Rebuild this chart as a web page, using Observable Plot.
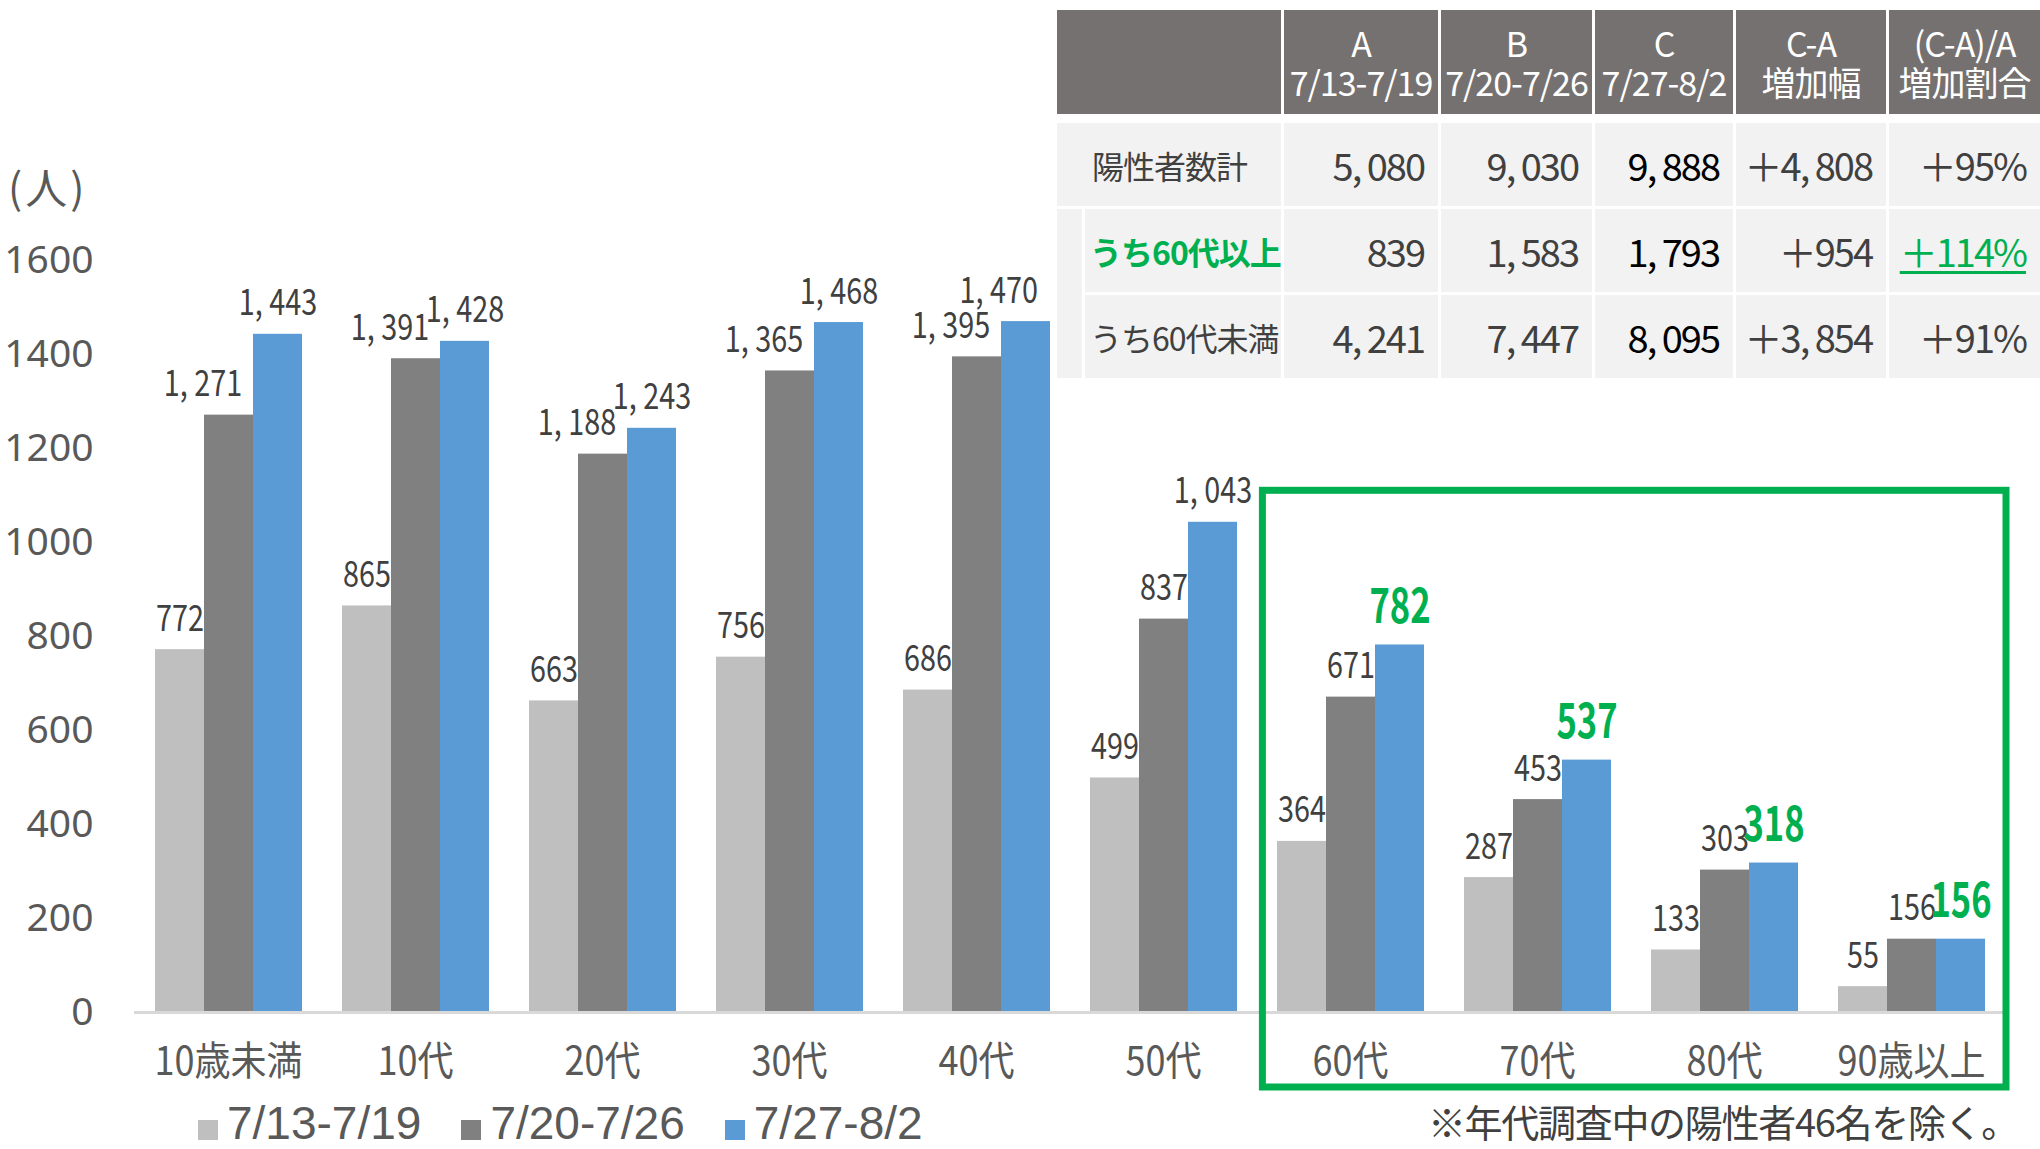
<!DOCTYPE html>
<html>
<head>
<meta charset="utf-8">
<script src="https://cdn.jsdelivr.net/npm/d3@7"></script>
<script src="https://cdn.jsdelivr.net/npm/@observablehq/plot@0.6"></script>
<style>
  html, body { margin: 0; padding: 0; background: #ffffff; }
  #wrap { position: relative; width: 2040px; height: 1149px; overflow: hidden; background: #ffffff;
          font-family: "Noto Sans CJK JP", sans-serif; }
  #wrap svg { display: block; }
  #unit { position: absolute; left: 8px; top: 164px; font: 42px/44px "Noto Sans CJK JP", sans-serif; letter-spacing: 3px; color: #595959; }
  #note { position: absolute; right: 22px; top: 1100px; font: 38px/42px "Noto Sans CJK JP", sans-serif; letter-spacing: -1.3px; color: #404040; white-space: nowrap; }
  #legend { position: absolute; left: 198px; top: 1100px; height: 46px; display: flex; align-items: flex-start; gap: 40px; }
  #legend .item { display: flex; align-items: flex-start; }
  #legend .sw { width: 20px; height: 20px; margin-right: 9px; margin-top: 20px; }
  #legend .lb { font: 46px/46px "Liberation Sans", "Noto Sans CJK JP", sans-serif; color: #595959; }
  table.summary { position: absolute; left: 1054px; top: 7px; width: 986px; border-collapse: collapse; table-layout: fixed; }
  table.summary th, table.summary td { border: 3px solid #ffffff; padding: 0; white-space: nowrap; overflow: hidden; }
  table.summary th { background: #767171; color: #ffffff; height: 104px; font: 34px/39px "Noto Sans CJK JP", sans-serif; font-weight: normal; letter-spacing: -1px; text-align: center; border-bottom: 9px solid #ffffff; }
  table.summary td { background: #f2f2f2; height: 83px; color: #404040; }
  table.summary td.lab { font: 32px/36px "Noto Sans CJK JP", sans-serif; letter-spacing: -1px; text-align: left; }
  table.summary td.num { font: 38px/40px "Noto Sans CJK JP", sans-serif; text-align: right; padding-right: 14px; letter-spacing: -2px; }
  table.summary td.colC { color: #000000; }
  table.summary td.green { color: #00b050; }
  table.summary td.lab.green { font-weight: bold; }
  table.summary td.under span { text-decoration: underline; text-decoration-color: #00b050; text-underline-offset: 4px; }
</style>
</head>
<body>
<div id="wrap"></div>
<script>
// ---------------- data ----------------
const ages = ["10歳未満", "10代", "20代", "30代", "40代", "50代", "60代", "70代", "80代", "90歳以上"];
const periods = ["7/13-7/19", "7/20-7/26", "7/27-8/2"];
const week1 = [772, 865, 663, 756, 686, 499, 364, 287, 133, 55];
const week2 = [1271, 1391, 1188, 1365, 1395, 837, 671, 453, 303, 156];
const week3 = [1443, 1428, 1243, 1468, 1470, 1043, 782, 537, 318, 156];
const seriesColors = ["#bfbfbf", "#808080", "#5b9bd5"];
const yTicks = [0, 200, 400, 600, 800, 1000, 1200, 1400, 1600];
const highlightAges = ["60代", "70代", "80代", "90歳以上"];
const unitLabel = "(人)";
const footnote = "※年代調査中の陽性者46名を除く。";

// summary table
const tableHeadTop = ["A", "B", "C", "C-A", "(C-A)/A"];
const tableHeadBottom = ["7/13-7/19", "7/20-7/26", "7/27-8/2", "増加幅", "増加割合"];
const tableRowLabels = ["陽性者数計", "うち60代以上", "うち60代未満"];
const tableA = [5080, 839, 4241];
const tableB = [9030, 1583, 7447];
const tableC = [9888, 1793, 8095];
const tableDiff = [4808, 954, 3854];
const tableRatio = [95, 114, 91];

// ---------------- chart ----------------
const FONT = "'Noto Sans CJK JP', sans-serif";
const series = [week1, week2, week3];
const data = ages.flatMap((age, i) => periods.map((p, j) => ({age, period: p, value: series[j][i], s: j})));
const fmt = v => d3.format(",")(v).replace(",", ", ");
const isGreen = d => d.s === 2 && highlightAges.includes(d.age);
const isShifted = d => d.s === 1 && d.value >= 1000;   // the original nudges these labels left

const labelStyle = {fx: "age", x: "period", y: "value", text: d => fmt(d.value), lineAnchor: "bottom", fontSize: 36, fill: "#404040"};

const chart = Plot.plot({
  width: 2040,
  height: 1100,
  marginLeft: 132,
  marginRight: 34,
  marginTop: 260,
  marginBottom: 88,
  style: {fontFamily: FONT, background: "transparent", overflow: "visible"},
  fx: {domain: ages, paddingInner: 0.21, paddingOuter: 0.105, label: null},
  x: {domain: periods, padding: 0, axis: null},
  y: {domain: [0, 1600]},
  color: {domain: periods, range: seriesColors},
  marks: [
    Plot.barY(data, {fx: "age", x: "period", y: "value", fill: "period"}),
    Plot.ruleY([0], {stroke: "#d9d9d9", strokeWidth: 3, insetLeft: -20, insetRight: -20}),
    Plot.text(data.filter(d => !isGreen(d) && !isShifted(d)), {...labelStyle, dy: -19}),
    Plot.text(data.filter(isShifted), {...labelStyle, dy: -19, dx: -26}),
    Plot.text(data.filter(isGreen), {
      fx: "age", x: "period", y: "value", text: d => fmt(d.value),
      lineAnchor: "bottom", dy: -22, fontSize: 48, fontWeight: "bold", fill: "#00b050"
    }),
    Plot.axisY({ticks: yTicks, tickFormat: d => String(d), tickSize: 0, tickPadding: 61, fontSize: 39, fontFamily: "'Noto Sans', sans-serif", fill: "#595959", label: null}),
    Plot.axisFx({anchor: "bottom", tickSize: 0, tickPadding: 34, fontSize: 40, fill: "#595959", label: null})
  ]
});

const wrap = document.getElementById("wrap");
wrap.appendChild(chart);

// condensed lettering like the original's narrow font
function condense(nodes, factor) {
  nodes.forEach(t => {
    const L = t.getComputedTextLength();
    t.setAttribute("textLength", (L * factor).toFixed(2));
    t.setAttribute("lengthAdjust", "spacingAndGlyphs");
  });
}
const textGroups = chart.querySelectorAll('g[aria-label="text"]');
if (textGroups[0]) condense(textGroups[0].querySelectorAll("text"), 0.8);
if (textGroups[1]) condense(textGroups[1].querySelectorAll("text"), 0.8);
if (textGroups[2]) condense(textGroups[2].querySelectorAll("text"), 0.72);
condense(chart.querySelectorAll('g[aria-label="fx-axis tick label"] text'), 0.9);

// green highlight frame around the 60+ groups, derived from the chart scales
(function () {
  const fxDesc = chart.scale("fx");
  const yDesc = chart.scale("y");
  const fxS = d3.scaleBand().domain(fxDesc.domain).range(fxDesc.range)
    .paddingInner(fxDesc.paddingInner).paddingOuter(fxDesc.paddingOuter).align(fxDesc.align ?? 0.5);
  const yS = d3.scaleLinear().domain(yDesc.domain).range(yDesc.range);
  const first = highlightAges[0], last = highlightAges[highlightAges.length - 1];
  const half = fxS.step() * fxS.paddingInner() / 2;
  const x1 = fxS(first) - half + 6;
  const x2 = fxS(last) + fxS.bandwidth() + half;
  const y1 = yS(1110);
  const y2 = yS(0) + 75;
  d3.select(chart).append("rect")
    .attr("x", x1).attr("y", y1).attr("width", x2 - x1).attr("height", y2 - y1)
    .attr("fill", "none").attr("stroke", "#00b050").attr("stroke-width", 7);
})();

// unit label
const unit = document.createElement("div");
unit.id = "unit"; unit.textContent = unitLabel; wrap.appendChild(unit);

// footnote
const note = document.createElement("div");
note.id = "note"; note.textContent = footnote; wrap.appendChild(note);

// legend
const legend = document.createElement("div");
legend.id = "legend";
periods.forEach((p, i) => {
  const item = document.createElement("div"); item.className = "item";
  const sw = document.createElement("div"); sw.className = "sw"; sw.style.background = seriesColors[i];
  const lb = document.createElement("div"); lb.className = "lb"; lb.textContent = p;
  item.appendChild(sw); item.appendChild(lb); legend.appendChild(item);
});
wrap.appendChild(legend);

// summary table
const table = document.createElement("table");
table.className = "summary";
const cg = document.createElement("colgroup");
[28, 199, 157, 154, 141, 153, 154].forEach(w => { const c = document.createElement("col"); c.style.width = w + "px"; cg.appendChild(c); });
table.appendChild(cg);
const head = document.createElement("tr");
const corner = document.createElement("th"); corner.colSpan = 2; head.appendChild(corner);
tableHeadTop.forEach((t, i) => {
  const th = document.createElement("th");
  th.appendChild(document.createTextNode(t));
  th.appendChild(document.createElement("br"));
  th.appendChild(document.createTextNode(tableHeadBottom[i]));
  head.appendChild(th);
});
table.appendChild(head);
const fmtPlus = v => "＋" + fmt(v);
tableRowLabels.forEach((label, r) => {
  const tr = document.createElement("tr");
  if (r === 0) {
    const td = document.createElement("td"); td.colSpan = 2; td.className = "lab";
    td.style.paddingLeft = "35px"; td.textContent = label; tr.appendChild(td);
  } else {
    if (r === 1) { const sp = document.createElement("td"); sp.rowSpan = 2; tr.appendChild(sp); }
    const td = document.createElement("td"); td.className = "lab" + (r === 1 ? " green" : "");
    td.style.paddingLeft = "5px"; td.textContent = label; tr.appendChild(td);
  }
  const vals = [fmt(tableA[r]), fmt(tableB[r]), fmt(tableC[r]), fmtPlus(tableDiff[r]), "＋" + tableRatio[r] + "%"];
  vals.forEach((v, c) => {
    const td = document.createElement("td");
    td.className = "num" + (c === 2 ? " colC" : "") + (r === 1 && c === 4 ? " green under" : "");
    const s = document.createElement("span"); s.textContent = v; td.appendChild(s);
    tr.appendChild(td);
  });
  table.appendChild(tr);
});
wrap.appendChild(table);

// keep bar labels clear of the table that sits over the top-right of the chart
(function () {
  const tb = table.getBoundingClientRect();
  const wb = wrap.getBoundingClientRect();
  const limitX = tb.left - wb.left - 16;
  const limitY = tb.bottom - wb.top;
  chart.querySelectorAll('g[aria-label="text"] text').forEach(t => {
    const b = t.getBoundingClientRect();
    const right = b.right - wb.left, top = b.top - wb.top;
    if (right > limitX && top < limitY) {
      const prev = parseFloat(t.getAttribute("dx") || 0);
      t.setAttribute("dx", prev - (right - limitX));
    }
  });
})();
</script>
</body>
</html>
